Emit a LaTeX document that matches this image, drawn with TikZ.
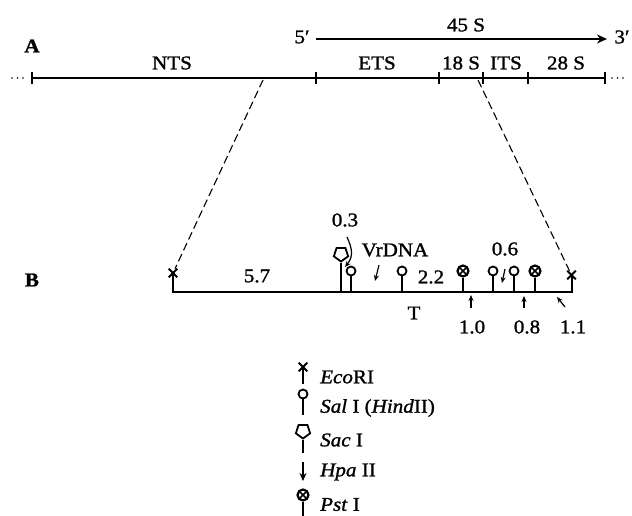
\documentclass[tikz,border=0pt]{standalone}
\usepackage{fontspec}
\setmainfont{Liberation Serif}[FakeStretch=1.08,RawFeature={embolden=1.2}]
\usetikzlibrary{shapes.geometric,shapes.misc,arrows.meta,calc}
\tikzset{
  x=1pt,y=-1pt,
  lab/.style={inner sep=0pt,font=\fontsize{19.5}{19.5}\selectfont},
  leg/.style={inner sep=0pt,anchor=west,font=\fontsize{19.5}{19.5}\selectfont},
  mainline/.style={line width=2pt,black},
  tickmark/.style={line width=1.6pt,black},
  stem/.style={line width=2pt,black},
  dashline/.style={line width=1.1pt,dash pattern=on 8pt off 4pt,black},
  smallarrow/.style={line width=1.2pt,-{Stealth[length=6pt,width=5pt]},black},
  salhead/.style={circle,draw,line width=1.8pt,fill=white,inner sep=0pt,minimum size=9pt},
  sachead/.style={regular polygon,regular polygon sides=5,shape border rotate=180,draw,line width=1.8pt,fill=white,inner sep=0pt,minimum size=15pt},
  psthead/.style={circle,draw,line width=2.2pt,fill=white,inner sep=0pt,minimum size=11pt,
    path picture={\draw[line width=1.6pt] (path picture bounding box.south west) -- (path picture bounding box.north east)
      (path picture bounding box.north west) -- (path picture bounding box.south east);}},
  ecohead/.style={cross out,draw,line width=2.1pt,inner sep=0pt,minimum size=6.5pt},
  dotsmark/.style={line width=1.9pt,line cap=round,dash pattern=on 0pt off 5.5pt,black},
}
\begin{document}
\begin{tikzpicture}
\useasboundingbox (0,0) rectangle (632,516);
% line A
\coordinate (a0) at (32,78);
\coordinate (a1) at (316,78);
\coordinate (a2) at (439,78);
\coordinate (a3) at (483,78);
\coordinate (a4) at (528,78);
\coordinate (a5) at (605,78);
\draw[mainline] (a0) -- (a5);
\foreach \p in {a0,a1,a2,a3,a4,a5} \draw[tickmark] ($(\p)+(0,-6)$) -- ($(\p)+(0,6)$);
\coordinate (dl0) at (12,78); \coordinate (dl1) at (28,78);
\coordinate (dr0) at (612,78); \coordinate (dr1) at (628,78);
\draw[dotsmark] (dl0) -- (dl1);
\draw[dotsmark] (dr0) -- (dr1);
\node[lab,font=\fontsize{19.5}{19.5}\selectfont\bfseries] (lA) at (32,46) {A};
\node[lab] (nts) at (172,63) {NTS};
\node[lab] (ets) at (377,63) {ETS};
\node[lab] (s18) at (461,63) {18 S};
\node[lab] (its) at (506,63) {ITS};
\node[lab] (s28) at (566,63) {28 S};
% 45 S
\node[lab] (five) at (302,37) {5′};
\node[lab] (three) at (622,37) {3′};
\node[lab] (s45) at (466,25) {45 S};
\coordinate (arL) at (316,39);
\coordinate (arR) at (607,39);
\draw[line width=1.7pt,-{Stealth[length=10pt,width=9pt]}] (arL) -- (arR);
% line B
\coordinate (b0) at (173,291.5);
\coordinate (b1) at (571.5,291.5);
\node[ecohead] (xl) at (173,273) {};
\node[ecohead] (xr) at (571.5,275) {};
\draw[mainline] (xl.center) -- (b0) -- (b1) -- (xr.center);
% dashed
\coordinate (d1) at (263,80);
\coordinate (d2) at (478,80);
\draw[dashline] (d1) -- (xl);
\draw[dashline] (d2) -- (xr);
% sites
\node[sachead] (sac) at (341,254) {};
\node[salhead] (sal1) at (351,271) {};
\node[salhead] (sal2) at (402,271) {};
\node[psthead] (pst1) at (463,271) {};
\node[salhead] (sal3) at (493,271) {};
\node[salhead] (sal4) at (514,271) {};
\node[psthead] (pst2) at (535,271) {};
\foreach \h in {sac,sal1,sal2,pst1,sal3,sal4,pst2}
  \draw[stem] (\h.south) -- (\h.south |- b0);
% labels B
\node[lab,font=\fontsize{19.5}{19.5}\selectfont\bfseries] (lB) at (32,280) {B};
\node[lab] (v03) at (345,220) {0.3};
\node[lab] (vrdna) at (395,250) {VrDNA};
\node[lab] (v57) at (257,276) {5.7};
\node[lab] (v22) at (431,277) {2.2};
\node[lab] (v06) at (505,249) {0.6};
\node[lab] (tt) at (414,313) {T};
\node[lab] (v10) at (472,327) {1.0};
\node[lab] (v08) at (527,327) {0.8};
\node[lab] (v11) at (573,327) {1.1};
% small arrows
\coordinate (c03a) at (347,237); \coordinate (c03b) at (345,267);
\draw[smallarrow] (c03a) .. controls (353,250) and (353,257) .. (c03b);
\coordinate (cva) at (379,265); \coordinate (cvb) at (375,281);
\draw[smallarrow] (cva) -- (cvb);
\coordinate (c06a) at (505,269); \coordinate (c06b) at (502,283);
\draw[smallarrow] (c06a) -- (c06b);
\coordinate (c10a) at (471,308); \coordinate (c10b) at (471,295);
\draw[smallarrow] (c10a) -- (c10b);
\coordinate (c08a) at (524,308); \coordinate (c08b) at (524,296);
\draw[smallarrow] (c08a) -- (c08b);
\coordinate (c11a) at (565,307); \coordinate (c11b) at (557,297);
\draw[smallarrow] (c11a) -- (c11b);
% legend
\node[ecohead] (ke) at (303,367) {};
\coordinate (keb) at (303,384);
\draw[stem] (ke.center) -- (keb);
\node[leg] (te) at (320,377) {\textit{Eco}RI};
\node[salhead] (ks) at (303,394) {};
\coordinate (ksb) at (303,415);
\draw[stem] (ks.south) -- (ksb);
\node[leg] (ts) at (320,408) {\textit{Sal} I (\textit{Hind}II)};
\node[sachead] (kc) at (303,431) {};
\coordinate (kcb) at (303,453);
\draw[stem] (kc.south) -- (kcb);
\node[leg] (tc) at (320,440) {\textit{Sac} I};
\coordinate (kha) at (303,462); \coordinate (khb) at (303,481);
\draw[line width=1.7pt,-{Stealth[length=8pt,width=7pt]}] (kha) -- (khb);
\node[leg] (th) at (320,472) {\textit{Hpa} II};
\node[psthead] (kp) at (303,495) {};
\coordinate (kpb) at (303,516);
\draw[stem] (kp.south) -- (kpb);
\node[leg] (tp) at (320,504.5) {\textit{Pst} I};
\end{tikzpicture}
\end{document}
